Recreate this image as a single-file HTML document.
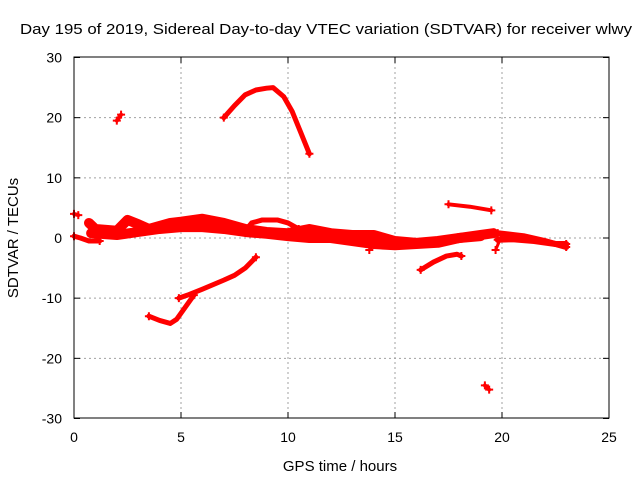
<!DOCTYPE html>
<html><head><meta charset="utf-8"><style>
html,body{margin:0;padding:0;background:#fff;}
svg{display:block;font-family:"Liberation Sans",sans-serif;}
</style></head><body>
<svg id="chart" width="640" height="480">
<text x="20" y="34" font-size="15" textLength="612" lengthAdjust="spacingAndGlyphs">Day 195 of 2019, Sidereal Day-to-day VTEC variation (SDTVAR) for receiver wlwy</text>
<text x="340" y="471" font-size="15" text-anchor="middle">GPS time / hours</text>
<text x="18" y="238" font-size="15" text-anchor="middle" transform="rotate(-90 18 238)">SDTVAR / TECUs</text>
<g id="grid"></g><g id="ticks"></g><g id="marks"></g>
<rect x="74" y="57" width="535" height="361" fill="none" stroke="#000" stroke-width="1"/>
</svg>
<script>
const xTicks=[0,5,10,15,20,25];
const yTicks=[30,20,10,0,-10,-20,-30];
const trackShort1=[[2.0,19.5],[2.2,20.5]];
const trackArc=[[7,20],[7.5,22],[8,23.8],[8.5,24.6],[9,24.9],[9.3,25],[9.8,23.5],[10.2,21],[10.6,17.5],[11,14]];
const trackRise=[[4.9,-10],[5.3,-9.5],[6,-8.5],[7,-7],[7.5,-6.2],[8,-5],[8.5,-3.2]];
const trackDip=[[3.5,-13],[4,-13.7],[4.5,-14.2],[4.8,-13.5],[5.2,-11.5],[5.6,-9.5]];
const trackEve=[[16.2,-5.3],[16.8,-4],[17.4,-3],[17.9,-2.7],[18.1,-3]];
const trackHigh=[[17.5,5.6],[18.5,5.2],[19.5,4.6]];
const trackLow=[[19.2,-24.5],[19.4,-25.2]];
const trackStart=[[0,4],[0.2,3.8]];
const trackStart2=[[0,0.3],[0.3,0],[0.7,-0.5],[1.2,-0.5]];
const bandUpper=[[0.7,2.5],[1,1.5],[2,1.2],[2.5,3],[3,2.3],[3.5,1.5],[4,2],[4.5,2.5],[5,2.7],[6,3.2],[7,2.5],[8,1.5],[9,1],[10,0.8],[11,1.5],[12,0.8],[13,0.5],[14,0.5],[15,-0.5],[16,-0.8],[17,-0.5],[18,0],[19,0.5],[19.6,0.8]];
const bandLower=[[0.8,0.8],[2,0.5],[3,1],[4,1.5],[5,1.8],[6,1.8],[7,1.5],[8,1],[9,0.7],[10,0.3],[11,0],[12,0],[13,-0.5],[14,-1],[15,-1.2],[16,-1],[17,-0.8],[18,0],[19,0.3]];
const bandBump=[[8,1.2],[8.3,2.5],[8.8,3],[9.5,3],[10,2.5],[10.5,1.5]];
const bandLate=[[19.8,0.8],[20.5,0.5],[21,0.3],[22,-0.5],[23,-1.5]];
const bandLate2=[[19.8,-0.3],[20.5,-0.2],[21.5,-0.5],[22.5,-1],[23,-1]];
const trackSpur=[[19.7,-2],[20,0.5]];
const trackSpur2=[[13.8,-2],[14.2,0]];
const series=[[trackShort1,4],[trackArc,5],[trackRise,5],[trackDip,5],[trackEve,5],[trackHigh,4],[trackLow,4],[trackStart,4],[trackStart2,5],[bandUpper,10],[bandLower,10],[bandBump,5],[bandLate,6],[bandLate2,6],[trackSpur,3],[trackSpur2,3]];
const NS='http://www.w3.org/2000/svg';
const X=t=>74+t*(535/25);
const Y=v=>238-v*(361/60);
function mk(tag,attrs,parent){const e=document.createElementNS(NS,tag);for(const k in attrs)e.setAttribute(k,attrs[k]);parent.appendChild(e);return e;}
const grid=document.getElementById('grid'),ticks=document.getElementById('ticks'),marks=document.getElementById('marks');
xTicks.forEach(t=>{
 if(t>0&&t<25){const g=mk('line',{x1:X(t),x2:X(t),y1:57,y2:418,stroke:'#a0a0a0','stroke-dasharray':'2,3'},grid);
 
 }
 const l=mk('text',{x:X(t),y:442,'font-size':14,'text-anchor':'middle'},ticks);l.textContent=t;
 
 
 mk('line',{x1:X(t),x2:X(t),y1:418,y2:412,stroke:'#000'},ticks);
 mk('line',{x1:X(t),x2:X(t),y1:57,y2:63,stroke:'#000'},ticks);
});
yTicks.forEach(v=>{
 if(v>-30&&v<30){const g=mk('line',{x1:74,x2:609,y1:Y(v),y2:Y(v),stroke:'#a0a0a0','stroke-dasharray':'2,3'},grid);
 
 }
 const l=mk('text',{x:62,y:Y(v)+5,'font-size':14,'text-anchor':'end'},ticks);l.textContent=v;
 
 
 mk('line',{x1:74,x2:80,y1:Y(v),y2:Y(v),stroke:'#000'},ticks);
 mk('line',{x1:609,x2:603,y1:Y(v),y2:Y(v),stroke:'#000'},ticks);
});
series.forEach(([pts,w])=>{
 const p=mk('polyline',{points:pts.map(d=>X(d[0])+','+Y(d[1])).join(' '),fill:'none',stroke:'#ff0000','stroke-width':w,'stroke-linejoin':'round','stroke-linecap':'round'},marks);
 
 
 [pts[0],pts[pts.length-1]].forEach(d=>{
  const m=mk('path',{d:`M${X(d[0])-4},${Y(d[1])}h8M${X(d[0])},${Y(d[1])-4}v8`,stroke:'#ff0000','stroke-width':2},marks);
  
  
 });
});
</script>
</body></html>
